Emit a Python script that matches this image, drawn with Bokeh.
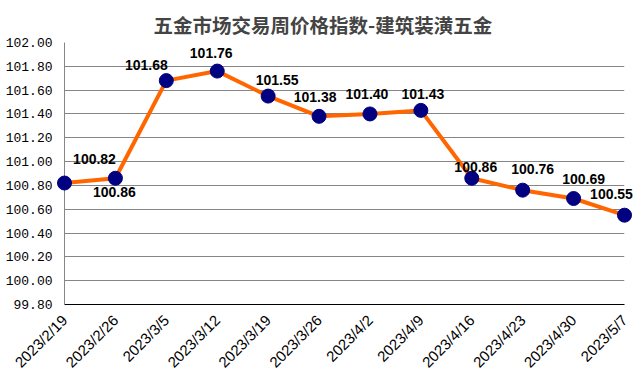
import math
from bokeh.plotting import figure
from bokeh.models import Range1d, FixedTicker, ColumnDataSource
from bokeh.core.properties import value
from bokeh.embed import file_html
from bokeh.resources import INLINE

dates = ["2023/2/19", "2023/2/26", "2023/3/5", "2023/3/12", "2023/3/19", "2023/3/26",
         "2023/4/2", "2023/4/9", "2023/4/16", "2023/4/23", "2023/4/30", "2023/5/7"]
index_values = [100.82, 100.86, 101.68, 101.76, 101.55, 101.38,
                101.40, 101.43, 100.86, 100.76, 100.69, 100.55]
y_ticks = [99.8, 100.0, 100.2, 100.4, 100.6, 100.8, 101.0, 101.2, 101.4, 101.6, 101.8, 102.0]
title_text = "五金市场交易周价格指数-建筑装潢五金"

# label placement (screen pixel offsets, y down)
label_dx = [30, -1, -20, -6, 9, -4, -3, 2, 4, 10, 10, -13]
label_dy = [-24, 14, -16, -18, -16, -19, -20, -16, -11, -21, -20, -21]

xs = list(range(len(dates)))
src = ColumnDataSource(dict(
    x=xs, y=index_values,
    lab=["%.2f" % v for v in index_values],
    dx=label_dx, dy=label_dy,
))

p = figure(width=636, height=380, output_backend="svg", toolbar_location=None,
           x_range=Range1d(0, len(dates) - 1), y_range=Range1d(99.8, 102.0),
           min_border_left=64, min_border_right=12, min_border_top=42, min_border_bottom=76)

p.title.text = title_text
p.title.text_font = "Noto Sans CJK SC"
p.title.text_font_size = "19.5px"
p.title.text_font_style = "bold"
p.title.align = "left"
p.title.offset = 89
p.title.standoff = 8

p.outline_line_color = None
p.background_fill_color = "white"
p.border_fill_color = "white"

p.xgrid.grid_line_color = None
p.ygrid.grid_line_color = "#868686"
p.ygrid.grid_line_width = 1
p.ygrid.ticker = FixedTicker(ticks=y_ticks)

p.yaxis.ticker = FixedTicker(ticks=y_ticks)
p.yaxis.major_label_overrides = {t: "%.2f" % t for t in y_ticks}
p.yaxis.axis_line_color = "#868686"
p.yaxis.major_tick_line_color = None
p.yaxis.minor_tick_line_color = None
p.yaxis.major_tick_out = 0
p.yaxis.major_tick_in = 0
p.yaxis.major_label_standoff = 12
p.yaxis.major_label_text_font = "Liberation Mono"
p.yaxis.major_label_text_font_size = "13px"
p.yaxis.major_label_text_color = "black"

p.xaxis.ticker = FixedTicker(ticks=xs)
p.xaxis.major_label_overrides = {i: d for i, d in enumerate(dates)}
p.xaxis.major_label_orientation = math.pi / 4
p.xaxis.axis_line_color = "black"
p.xaxis.major_tick_line_color = None
p.xaxis.minor_tick_line_color = None
p.xaxis.major_tick_out = 0
p.xaxis.major_tick_in = 0
p.xaxis.major_label_standoff = 13
p.xaxis.major_label_text_font = "Liberation Sans"
p.xaxis.major_label_text_font_size = "15px"
p.xaxis.major_label_text_color = "black"

p.line("x", "y", source=src, line_color="#FF6600", line_width=4, level="overlay")
p.scatter("x", "y", source=src, size=14, fill_color="#000080", line_color="#000080", level="overlay")
p.text("x", "y", text="lab", source=src, x_offset="dx", y_offset="dy",
       text_align="center", text_baseline="middle",
       text_font=value("Liberation Sans"), text_font_size="14px", text_font_style="bold",
       text_color="black", level="overlay")

open("out.html", "w").write(file_html(p, INLINE))
